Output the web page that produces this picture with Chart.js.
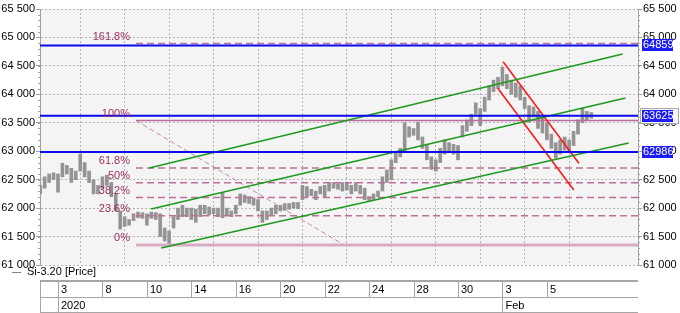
<!DOCTYPE html>
<html><head><meta charset="utf-8">
<script src="https://cdn.jsdelivr.net/npm/chart.js@4.4.1/dist/chart.umd.min.js"></script>
<style>html,body{margin:0;padding:0;background:#fff;}canvas{display:block}</style>
</head><body>
<canvas id="c" width="680" height="313"></canvas>
<script>
// ---- data ----
const barStart = -0.8;          // first bar, in trading days from Jan 3
const barStep = 0.2;            // bars per trading day = 5
const barLow = [
 62250,62350,62450,62500,62280,62550,62600,62450,62500,62650,
 62550,62450,62250,62250,62350,62400,62200,61950,61630,61680,
 61700,61780,61830,61820,61700,61820,61800,61500,61420,61350,
 61650,61800,61850,61850,61800,61750,61850,61900,61880,61900,
 61850,61830,61880,61850,61900,62050,62100,62080,62050,61950,
 61750,61800,61880,61900,61950,61960,61980,62000,61990,62150,
 62200,62220,62150,62250,62200,62300,62350,62330,62300,62320,
 62250,62300,62250,62150,62130,62150,62200,62300,62450,62500,
 62800,62900,63000,63250,63280,63200,63050,62850,62680,62650,
 62800,62950,63000,62950,62850,63250,63350,63450,63650,63450,
 63700,63900,64050,64100,64150,64100,64000,63950,63900,63750,
 63510,63600,63400,63320,63200,63050,62880,62950,63020,63000,
 63100,63300,63500,63550,63580];
const barHigh = [
 62400,62550,62600,62620,62600,62790,62750,62700,62650,62950,
 62800,62650,62500,62400,62550,62580,62450,62250,61950,61850,
 61800,61900,61930,61920,61900,61930,61920,61900,61650,61600,
 61850,62000,62050,62000,62000,61980,62050,62050,62020,62000,
 62000,62270,62000,61950,62050,62250,62230,62200,62180,62150,
 61950,61950,62000,62050,62050,62080,62080,62100,62100,62400,
 62380,62330,62300,62380,62400,62450,62450,62430,62450,62450,
 62400,62450,62400,62350,62200,62250,62300,62550,62670,62850,
 62970,63050,63500,63430,63400,63510,63250,63100,62900,62850,
 63050,63200,63150,63120,63100,63450,63550,63650,63850,63750,
 63950,64150,64250,64300,64480,64350,64250,64200,64150,63950,
 63800,63780,63700,63600,63500,63300,63150,63200,63250,63200,
 63350,63550,63760,63700,63680];

const dateTicks  = [0,2,4,6,8,10,12,14,16,18,20,22];
const dateLabels = ['3','8','10','14','16','20','22','24','28','30','3','5'];
const periodStarts = [0,20];
const periodLabels = ['2020','Feb'];

const xMin = -0.81, xMax = 26.1;
const yMin = 61000, yMax = 65500, yStep = 500;

const levelValues = [64859, 63625, 62986];
const levelLabels = ['64859','63625','62986'];

const fibLow = 61350, fibHigh = 63540, fibStart = 3.51;
const fibLevels = [161.8, 100, 61.8, 50, 38.2, 23.6, 0];

const greenTop    = [[4.10,62705],[25.41,64709]];
const greenMiddle = [[4.19,61984],[25.54,63936]];
const greenBottom = [[4.64,61299],[25.68,63145]];
const redUpper    = [[20.03,64574],[23.44,62788]];
const redLower    = [[19.79,64106],[23.21,62318]];
const fibDiagonal = [[3.51,63540],[12.88,61350]];

const seriesName = 'Si-3.20 [Price]';

// ---- build ----
const FONT = '"Liberation Sans", Arial, sans-serif';
const pts = a => a.map(p => ({x:p[0], y:p[1]}));
const seg = (data, color, width, dash) => ({type:'line', data:pts(data), borderColor:color,
  borderWidth:width, borderDash:dash||[], pointRadius:0, fill:false, order:1, tension:0});

const datasets = [];
levelValues.forEach(v => datasets.push(seg([[xMin,v],[xMax,v]], '#0a0aee', 2)));
datasets.push(seg(greenTop, '#1e9a1e', 1.6));
datasets.push(seg(greenMiddle, '#1e9a1e', 1.6));
datasets.push(seg(greenBottom, '#1e9a1e', 1.6));
datasets.push(seg(redUpper, '#ff1414', 1.5));
datasets.push(seg(redLower, '#ff1414', 1.5));
fibLevels.forEach(p => {
  const v = fibLow + (fibHigh - fibLow) * p / 100;
  if (p === 0) datasets.push(seg([[fibStart,v],[xMax,v]], '#d9aac4', 3));
  else if (p === 100) datasets.push(seg([[fibStart,v],[xMax,v]], '#b86c99', 1.5));
  else datasets.push(seg([[fibStart,v],[xMax,v]], '#bb7099', 1.5, [7,4]));
});
datasets.push(seg(fibDiagonal, '#c689ab', 1, [5,3]));
datasets.push({type:'bar', data: barLow.map((lo,i)=>({x: barStart + i*barStep, y:[lo, barHigh[i]]})),
  backgroundColor:'#949494', barThickness:3, order:10, grouped:false});

const fmt = v => String(v).replace(/\B(?=(\d{3})+(?!\d))/g, ' ');

const deco = {
  id:'deco',
  beforeDraw(chart){
    const {ctx, chartArea:a} = chart;
    ctx.save(); ctx.fillStyle = '#f4f4f4';
    ctx.fillRect(a.left, a.top, a.right-a.left, a.bottom-a.top); ctx.restore();
  },
  afterDraw(chart){
    const {ctx, chartArea:a, scales} = chart;
    const x = scales.x, y = scales.y, y2 = scales.y2;
    ctx.save();
    // minor ticks
    ctx.strokeStyle = '#a0a0a0'; ctx.lineWidth = 1;
    for (let v = yMin; v <= yMax; v += 100) {
      const py = Math.round(y.getPixelForValue(v)) + 0.5;
      ctx.beginPath();
      ctx.moveTo(a.left-2, py); ctx.lineTo(a.left, py);
      ctx.moveTo(a.right, py); ctx.lineTo(a.right+2, py);
      ctx.stroke();
    }
    // fib labels
    ctx.font = '11px ' + FONT; ctx.fillStyle = '#9b2d5e';
    ctx.textAlign = 'right'; ctx.textBaseline = 'middle';
    const lx = x.getPixelForValue(fibStart) - 6;
    fibLevels.forEach(p => {
      const v = fibLow + (fibHigh - fibLow) * p / 100;
      ctx.fillText(p + '%', lx, y.getPixelForValue(v) - 7);
    });
    // value boxes on right axis
    ctx.textAlign = 'left';
    levelValues.forEach((v, i) => {
      const py = Math.round(y2.getPixelForValue(v));
      if (i === 1) {
        ctx.strokeStyle = '#a8a8a8'; ctx.lineWidth = 1;
        ctx.fillStyle = '#f4f4f4';
        ctx.fillRect(a.right+2, py-8, 38, 15);
        ctx.strokeRect(a.right+2.5, py-7.5, 38, 15);
      }
      ctx.fillStyle = '#1c1cf5';
      ctx.fillRect(a.right+4, py-6, 31, 12);
      ctx.fillStyle = '#ffffff';
      ctx.fillText(levelLabels[i], a.right+5, py);
    });
    // legend
    ctx.strokeStyle = '#808080'; ctx.lineWidth = 1;
    ctx.beginPath(); ctx.moveTo(12, 272.5); ctx.lineTo(21, 272.5); ctx.stroke();
    ctx.fillStyle = '#000'; ctx.textAlign = 'left';
    ctx.fillText(seriesName, 27, 272);
    // date table
    const t0 = 281, t1 = 297, t2 = 312;
    ctx.strokeStyle = '#a6a6a6'; ctx.lineWidth = 1;
    ctx.beginPath();
    ctx.moveTo(a.left, t0-0.5); ctx.lineTo(a.right, t0-0.5);
    ctx.moveTo(a.left, t0+0.5); ctx.lineTo(a.right, t0+0.5);
    ctx.moveTo(a.left, t1+0.5); ctx.lineTo(a.right, t1+0.5);
    ctx.moveTo(a.left, t2+0.5); ctx.lineTo(a.right, t2+0.5);
    ctx.moveTo(a.left+0.5, t0); ctx.lineTo(a.left+0.5, t2);
    dateTicks.forEach(d => {
      const px = Math.round(x.getPixelForValue(d)) + 0.5;
      ctx.moveTo(px, t0); ctx.lineTo(px, t1);
    });
    periodStarts.forEach(d => {
      const px = Math.round(x.getPixelForValue(d)) + 0.5;
      ctx.moveTo(px, t1); ctx.lineTo(px, t2);
    });
    ctx.stroke();
    ctx.fillStyle = '#000';
    dateTicks.forEach((d, i) => ctx.fillText(dateLabels[i], x.getPixelForValue(d) + 3, (t0+t1)/2 + 1));
    periodStarts.forEach((d, i) => ctx.fillText(periodLabels[i], x.getPixelForValue(d) + 3, (t1+t2)/2 + 1));
    ctx.restore();
  }
};

new Chart(document.getElementById('c'), {
  type:'bar',
  data:{datasets},
  plugins:[deco],
  options:{
    responsive:false, animation:false, devicePixelRatio:1, events:[],
    layout:{padding:{top:9, left:0, right:0, bottom:0}},
    plugins:{legend:{display:false}, tooltip:{enabled:false}},
    scales:{
      x:{type:'linear', min:xMin, max:xMax, offset:false,
        afterBuildTicks: s => { s.ticks = dateTicks.map(v => ({value:v})); },
        afterFit: s => { s.height = 48; },
        ticks:{display:false},
        grid:{color:'#b4b4b4', drawTicks:false, lineWidth:1},
        border:{display:false, dash:[2,2]}},
      y:{type:'linear', position:'left', min:yMin, max:yMax,
        afterFit: s => { s.width = 40; },
        ticks:{stepSize:yStep, callback:fmt, font:{family:FONT, size:11}, color:'#000', padding:1},
        grid:{color:'#b4b4b4', tickLength:4, tickColor:'#a0a0a0', tickBorderDash:[]},
        border:{display:true, color:'#a0a0a0', width:1, dash:[2,2]}},
      y2:{type:'linear', position:'right', min:yMin, max:yMax,
        afterFit: s => { s.width = 42; },
        ticks:{stepSize:yStep, callback:fmt, font:{family:FONT, size:11}, color:'#000', padding:1},
        grid:{drawOnChartArea:false, tickLength:4, tickColor:'#a0a0a0'},
        border:{display:true, color:'#a0a0a0', width:1}}
    }
  }
});
</script>
</body></html>
